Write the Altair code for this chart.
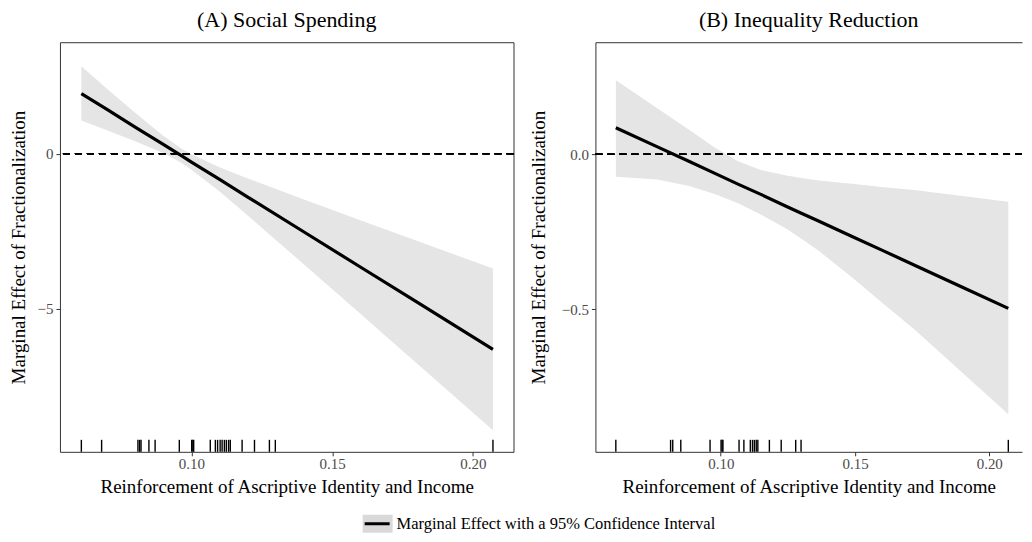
import altair as alt
import pandas as pd

FONT = "Liberation Serif"

panel_titles = ["(A) Social Spending", "(B) Inequality Reduction"]
x_title = "Reinforcement of Ascriptive Identity and Income"
y_title = "Marginal Effect of Fractionalization"
legend_label = "Marginal Effect with a 95% Confidence Interval"
x_ticks = [0.10, 0.15, 0.20]

# Panel A: Social Spending
a_x = [0.0609, 0.07, 0.08, 0.09, 0.0967, 0.10, 0.11, 0.12, 0.14, 0.16, 0.18, 0.2071]
a_est = [1.94, 1.43, 0.86, 0.30, -0.08, -0.27, -0.83, -1.40, -2.53, -3.66, -4.79, -6.32]
a_upper = [2.82, 2.10, 1.32, 0.58, 0.15, -0.02, -0.44, -0.80, -1.48, -2.15, -2.81, -3.71]
a_lower = [1.07, 0.76, 0.40, 0.02, -0.31, -0.52, -1.22, -2.00, -3.58, -5.17, -6.77, -8.93]
a_rug = [0.0609, 0.0681, 0.0810, 0.0816, 0.0821, 0.0849, 0.0871, 0.0957, 0.1001,
         0.1005, 0.1008, 0.1067, 0.1085, 0.1093, 0.1102, 0.1109, 0.1117, 0.1124,
         0.1132, 0.1138, 0.1180, 0.1224, 0.1277, 0.1298, 0.2071]
a_y_ticks = [-5, 0]
a_x_domain = [0.0533, 0.2144]
a_y_domain = [-9.63, 3.60]

# Panel B: Inequality Reduction
b_x = [0.0609, 0.0762, 0.0883, 0.0980, 0.1064, 0.1149, 0.1245, 0.1300, 0.1366, 0.1487,
       0.1600, 0.1728, 0.1900, 0.2071]
b_est = [0.086, 0.025, -0.023, -0.062, -0.096, -0.129, -0.168, -0.190, -0.216, -0.264,
         -0.309, -0.360, -0.429, -0.497]
b_upper = [0.239, 0.150, 0.079, 0.021, -0.022, -0.050, -0.068, -0.076, -0.084, -0.095,
           -0.105, -0.116, -0.134, -0.153]
b_lower = [-0.072, -0.081, -0.102, -0.129, -0.158, -0.194, -0.240, -0.272, -0.312, -0.396,
           -0.478, -0.570, -0.705, -0.839]
b_rug = [0.0609, 0.0813, 0.0821, 0.0851, 0.0960, 0.1001, 0.1005, 0.1008, 0.1068,
         0.1086, 0.1110, 0.1118, 0.1125, 0.1132, 0.1138, 0.1181, 0.1225, 0.1279,
         0.1299, 0.2071]
b_y_ticks = [-0.5, 0.0]
b_x_domain = [0.0533, 0.2122]
b_y_domain = [-0.960, 0.362]

A_W, A_H = 454, 410
B_W, B_H = 427, 410
RUG_LEN = 12


def make_panel(title, xs, est, lo, hi, rug, xdom, ydom, yticks, yfmt, w, h, boxed, ytp):
    df = pd.DataFrame({"x": xs, "est": est, "lo": lo, "hi": hi})
    rug_df = pd.DataFrame({"r": rug})
    xsc = alt.Scale(domain=xdom, nice=False, zero=False)
    ysc = alt.Scale(domain=ydom, nice=False, zero=False)
    x_axis = alt.Axis(values=x_ticks, format=".2f", title=x_title,
                      domain=not boxed, labelPadding=1, titlePadding=6)
    y_axis = alt.Axis(values=yticks, format=yfmt, title=y_title,
                      domain=not boxed, titlePadding=ytp)

    area = alt.Chart(df).mark_area(color="#e5e5e5").encode(
        x=alt.X("x:Q", scale=xsc, axis=x_axis),
        y=alt.Y("lo:Q", scale=ysc, axis=y_axis),
        y2="hi:Q",
    )
    zero = alt.Chart(df).mark_rule(color="black", strokeDash=[7, 5], strokeWidth=1.2).encode(
        y=alt.YDatum(0, axis=y_axis)
    )
    if boxed:
        line_x = alt.X("x:Q", scale=xsc, axis=x_axis)
        rug_x = alt.X("r:Q", scale=xsc, axis=x_axis)
    else:
        line_x = alt.X("x:Q", scale=xsc,
                       axis=alt.Axis(orient="top", labels=False, ticks=False,
                                     title=None, domain=True, minExtent=0,
                                     maxExtent=0, labelPadding=0, tickSize=0))
        rug_x = alt.X("r:Q", scale=xsc, axis=None)
    line = alt.Chart(df).mark_line(color="black", strokeWidth=3.2).encode(
        x=line_x,
        y=alt.Y("est:Q", scale=ysc, axis=y_axis),
    )
    rugs = alt.Chart(rug_df).mark_rule(color="black", strokeWidth=1.4).encode(
        x=rug_x,
        y=alt.value(h - RUG_LEN),
        y2=alt.value(h),
    )
    view = alt.ViewBackground(stroke="#333333", strokeWidth=1) if boxed else alt.ViewBackground(stroke="transparent")
    ch = alt.layer(area, zero, line, rugs).properties(
        width=w, height=h, title=alt.TitleParams(title, frame="group"), view=view
    )
    if not boxed:
        ch = ch.resolve_axis(x="independent")
    return ch


pa = make_panel(panel_titles[0], a_x, a_est, a_lower, a_upper, a_rug,
                a_x_domain, a_y_domain, a_y_ticks, "d", A_W, A_H, True, 9)
pb = make_panel(panel_titles[1], b_x, b_est, b_lower, b_upper, b_rug,
                b_x_domain, b_y_domain, b_y_ticks, ".1f", B_W, B_H, False, 13)

LW, LH = 700, 18
leg_df = pd.DataFrame({"label": [legend_label]})
box = alt.Chart(leg_df).mark_rect(color="#d9d9d9").encode(
    x=alt.value(303), x2=alt.value(333), y=alt.value(0), y2=alt.value(LH)
)
key_line = alt.Chart(leg_df).mark_rule(color="black", strokeWidth=3).encode(
    x=alt.value(305), x2=alt.value(330), y=alt.value(LH / 2)
)
txt = alt.Chart(leg_df).mark_text(
    align="left", baseline="middle", font=FONT, fontSize=16.5, color="black"
).encode(x=alt.value(337), y=alt.value(LH / 2), text="label:N")
legend = alt.layer(box, key_line, txt).properties(
    width=LW, height=LH, view=alt.ViewBackground(stroke="transparent")
)

chart = (
    alt.vconcat(alt.hconcat(pa, pb, spacing=13), legend, spacing=16)
    .properties(padding=0)
    .configure(font=FONT)
    .configure_view(stroke="transparent")
    .configure_axis(
        labelFont=FONT, titleFont=FONT, labelFontSize=15, titleFontSize=19,
        labelColor="#4d4d4d", titleColor="black", titleFontWeight="normal",
        tickColor="#333333", domainColor="#333333", tickSize=4, labelPadding=3,
        grid=False, tickWidth=1, domainWidth=1,
    )
    .configure_title(font=FONT, fontSize=22, fontWeight="normal", color="black",
                     anchor="middle", offset=10)
)

chart.save("out.html", embed_options={"renderer": "svg", "actions": False})
